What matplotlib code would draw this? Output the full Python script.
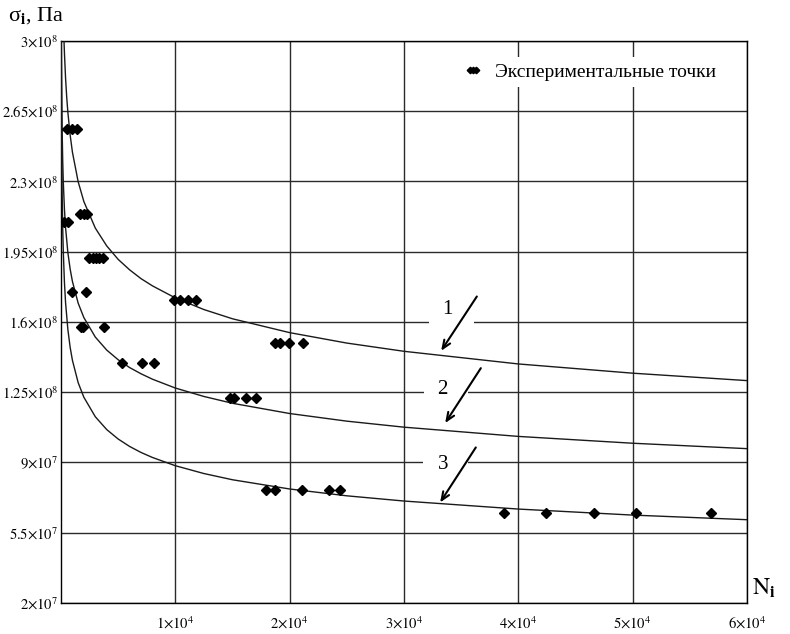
import matplotlib
matplotlib.use('Agg')
import matplotlib.pyplot as plt
from matplotlib.lines import Line2D

plt.rcParams['font.family'] = ['Liberation Serif', 'DejaVu Serif']
plt.rcParams['mathtext.fontset'] = 'stix'

# ---------------- data ----------------
exp_N = [500, 950, 1400,
         300, 650,
         1700, 2000, 2300,
         2480, 2770, 3060, 3350, 3650,
         940, 2190,
         9900, 10450, 11150, 11800,
         1720, 1950, 3760,
         5360, 7060, 8160,
         18720, 19160, 19970, 21200,
         14790, 15160, 16190, 17060,
         17900, 18720, 21060, 23450, 24410,
         38760, 42400, 46630, 50300, 56870]
exp_sigma = [2.56e8, 2.56e8, 2.56e8,
             2.10e8, 2.10e8,
             2.14e8, 2.14e8, 2.14e8,
             1.92e8, 1.92e8, 1.92e8, 1.92e8, 1.92e8,
             1.75e8, 1.75e8,
             1.71e8, 1.71e8, 1.71e8, 1.71e8,
             1.575e8, 1.575e8, 1.575e8,
             1.395e8, 1.395e8, 1.395e8,
             1.495e8, 1.495e8, 1.495e8, 1.495e8,
             1.22e8, 1.22e8, 1.22e8, 1.22e8,
             7.64e7, 7.64e7, 7.64e7, 7.64e7, 7.64e7,
             6.49e7, 6.49e7, 6.49e7, 6.49e7, 6.49e7]

curve1_N = [260, 300, 400, 500, 600, 800, 1000, 1500, 2000, 3000, 4000, 5000, 6000,
            7000, 8000, 10000, 12500, 15000, 20000, 25000, 30000, 40000, 50000, 60000]
curve1_s = [3.006e8, 2.941e8, 2.814e8, 2.720e8, 2.645e8, 2.532e8, 2.446e8, 2.299e8,
            2.200e8, 2.068e8, 1.979e8, 1.912e8, 1.860e8, 1.816e8, 1.780e8, 1.720e8,
            1.662e8, 1.616e8, 1.547e8, 1.495e8, 1.454e8, 1.391e8, 1.345e8, 1.308e8]

curve2_N = [30, 35, 50, 75, 100, 150, 200, 300, 400, 600, 800, 1000, 1500, 2000, 3000,
            4000, 5000, 6000, 7000, 8000, 10000, 12500, 15000, 20000, 25000, 30000,
            40000, 50000, 60000]
curve2_s = [3.065e8, 2.994e8, 2.836e8, 2.668e8, 2.553e8, 2.402e8, 2.299e8, 2.162e8,
            2.070e8, 1.946e8, 1.864e8, 1.802e8, 1.694e8, 1.622e8, 1.525e8, 1.460e8,
            1.412e8, 1.373e8, 1.342e8, 1.315e8, 1.271e8, 1.229e8, 1.195e8, 1.144e8,
            1.106e8, 1.076e8, 1.030e8, 0.996e8, 0.969e8]

curve3_N = [20, 25, 30, 40, 50, 75, 100, 150, 200, 300, 400, 600, 800, 1000, 1500, 2000,
            3000, 4000, 5000, 6000, 7000, 8000, 10000, 12500, 15000, 20000, 25000,
            30000, 40000, 50000, 60000]
curve3_s = [3.112e8, 2.974e8, 2.866e8, 2.704e8, 2.585e8, 2.381e8, 2.246e8, 2.069e8,
            1.952e8, 1.798e8, 1.696e8, 1.563e8, 1.474e8, 1.409e8, 1.298e8, 1.225e8,
            1.128e8, 1.064e8, 1.017e8, 0.980e8, 0.950e8, 0.925e8, 0.884e8, 0.845e8,
            0.814e8, 0.768e8, 0.734e8, 0.708e8, 0.668e8, 0.638e8, 0.615e8]

y_ticks = [2e7, 5.5e7, 9e7, 1.25e8, 1.6e8, 1.95e8, 2.3e8, 2.65e8, 3e8]
y_tick_labels = [r'$2{\times}10^{7}$', r'$5.5{\times}10^{7}$', r'$9{\times}10^{7}$',
                 r'$1.25{\times}10^{8}$', r'$1.6{\times}10^{8}$', r'$1.95{\times}10^{8}$',
                 r'$2.3{\times}10^{8}$', r'$2.65{\times}10^{8}$', r'$3{\times}10^{8}$']
x_ticks = [1e4, 2e4, 3e4, 4e4, 5e4, 6e4]
x_tick_labels = [r'$1{\times}10^{4}$', r'$2{\times}10^{4}$', r'$3{\times}10^{4}$',
                 r'$4{\times}10^{4}$', r'$5{\times}10^{4}$', r'$6{\times}10^{4}$']

curve_labels = ['1', '2', '3']
label_pos_N = [34120, 33680, 33620]
label_pos_s = [1.661e8, 1.262e8, 8.89e7]
arrow_start_N = [36370, 36720, 36280]
arrow_start_s = [1.727e8, 1.370e8, 9.75e7]
arrow_end_N = [33250, 33600, 33160]
arrow_end_s = [1.4565e8, 1.0965e8, 7.01e7]

legend_label = 'Экспериментальные точки'

# ---------------- figure ----------------
fig = plt.figure(figsize=(7.9, 6.34), dpi=100)
ax = fig.add_axes([61 / 790, 31 / 634, 686 / 790, 562 / 634])

ax.set_xlim(0, 6e4)
ax.set_ylim(2e7, 3e8)
ax.set_xticks(x_ticks)
ax.set_xticklabels(x_tick_labels)
ax.set_yticks(y_ticks)
ax.set_yticklabels(y_tick_labels)
ax.tick_params(axis='both', length=0, labelsize=10.5)
ax.tick_params(axis='x', pad=9)
ax.tick_params(axis='y', pad=2)
ax.grid(True, color='#2a2a2a', linewidth=1.0)
ax.set_axisbelow(True)
for sp in ax.spines.values():
    sp.set_color('black')
    sp.set_linewidth(1.0)

for cn, cs in [(curve1_N, curve1_s), (curve2_N, curve2_s), (curve3_N, curve3_s)]:
    ax.plot(cn, cs, color='#1a1a1a', linewidth=1.0, zorder=3)

ax.plot(exp_N, exp_sigma, linestyle='none', marker='D', markersize=5,
        color='black', zorder=4)

for lab, lx, ly, sx, sy, ex, ey in zip(curve_labels, label_pos_N, label_pos_s,
                                        arrow_start_N, arrow_start_s,
                                        arrow_end_N, arrow_end_s):
    ax.text(lx, ly, lab + ' ', fontsize=15, ha='center', va='center', zorder=5,
            bbox=dict(boxstyle='square,pad=0.7', fc='white', ec='none'))
    ax.annotate('', xy=(ex, ey), xytext=(sx, sy), zorder=6,
                arrowprops=dict(arrowstyle='->,head_length=0.6,head_width=0.25',
                                color='black', lw=1.5, shrinkA=0, shrinkB=0))

handle = Line2D([], [], linestyle='none', marker='D', markersize=3.3, color='black')
leg = ax.legend([handle], [legend_label], numpoints=3, loc='center',
                bbox_to_anchor=(590 / 790, 1 - 72 / 634), bbox_transform=fig.transFigure,
                fontsize=14, handlelength=0.9, handletextpad=0.7, borderpad=0.3,
                frameon=True, fancybox=False, framealpha=1.0)
leg.get_frame().set_facecolor('white')
leg.get_frame().set_edgecolor('none')
leg.set_zorder(7)

fig.text(8 / 790, 1 - 16 / 634, 'σ$_{\\mathbf{i}}$, Па', fontsize=16,
         ha='left', va='center')
fig.text(752 / 790, 1 - 588 / 634, r'$\mathrm{N}_{\mathbf{i}}$', fontsize=17,
         ha='left', va='center')

fig.savefig('out.png', dpi=100)
